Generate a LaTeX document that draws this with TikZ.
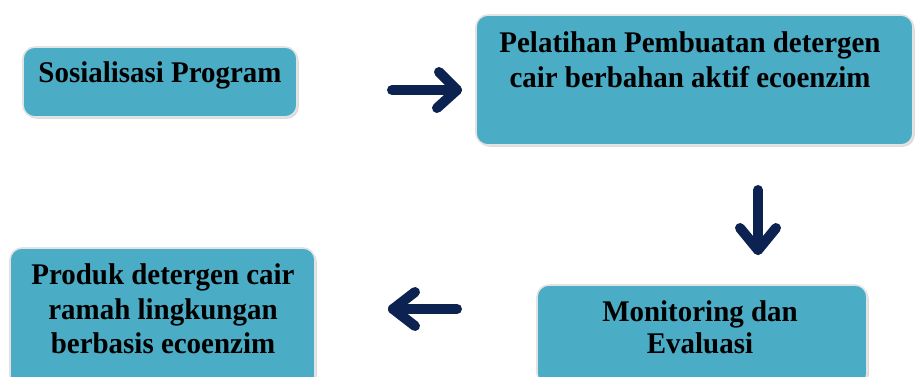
\documentclass[tikz,border=0pt]{standalone}
\usepackage{fontspec}
\setmainfont[FakeStretch=0.965]{Liberation Serif}
\usetikzlibrary{shadows,calc}
\definecolor{boxfill}{HTML}{4BACC6}
\definecolor{navy}{HTML}{0C2352}
\tikzset{
  box/.style={draw=gray!22, line width=1.6pt, fill=boxfill, rounded corners=12pt,
    drop shadow={shadow xshift=1.8pt, shadow yshift=-1.8pt, opacity=0.28, fill=gray},
    inner sep=0pt},
  txt/.style={align=center, inner sep=0pt, font=\fontsize{30}{34.5}\selectfont\bfseries},
  flow/.style={draw=navy, line width=10pt, line cap=round, line join=round}
}
\begin{document}
\begin{tikzpicture}[x=1pt,y=-1pt]
\clip (0,0) rectangle (915,376);
\fill[white] (0,0) rectangle (915,376);
% boxes
\node[box, minimum width=274pt, minimum height=70pt] (b1) at (160,82) {};
\node[box, minimum width=437pt, minimum height=130pt] (b2) at (694.5,80) {};
\node[box, minimum width=330pt, minimum height=100pt] (b3) at (702,335) {};
\node[box, minimum width=305pt, minimum height=140pt] (b4) at (162.5,318) {};
% texts
\node[txt] (t1) at (160,75.5) {Sosialisasi Program};
\node[txt] (t2) at (690,59.5) {Pelatihan Pembuatan detergen\\cair berbahan aktif ecoenzim};
\node[txt, font=\fontsize{30}{32}\selectfont\bfseries] (t3) at (700,327) {Monitoring dan\\Evaluasi};
\node[txt] (t4) at (163,309) {Produk detergen cair\\ramah lingkungan\\berbasis ecoenzim};
% arrow anchor coordinates
\coordinate (a1s) at (392,90);
\coordinate (a1e) at (457,90);
\coordinate (a2s) at (758,190);
\coordinate (a2e) at (758,250);
\coordinate (a3s) at (457,309);
\coordinate (a3e) at (393,309);
% arrows
\draw[flow] (a1s) -- (a1e);
\draw[flow] ($(a1e)+(-18,-18)$) -- (a1e) -- ($(a1e)+(-20,18)$);
\draw[flow] (a2s) -- (a2e);
\draw[flow] ($(a2e)+(-18,-22)$) -- (a2e) -- ($(a2e)+(18,-22)$);
\draw[flow] (a3s) -- (a3e);
\draw[flow] ($(a3e)+(22,-17)$) -- (a3e) -- ($(a3e)+(22,17)$);
\end{tikzpicture}
\end{document}
